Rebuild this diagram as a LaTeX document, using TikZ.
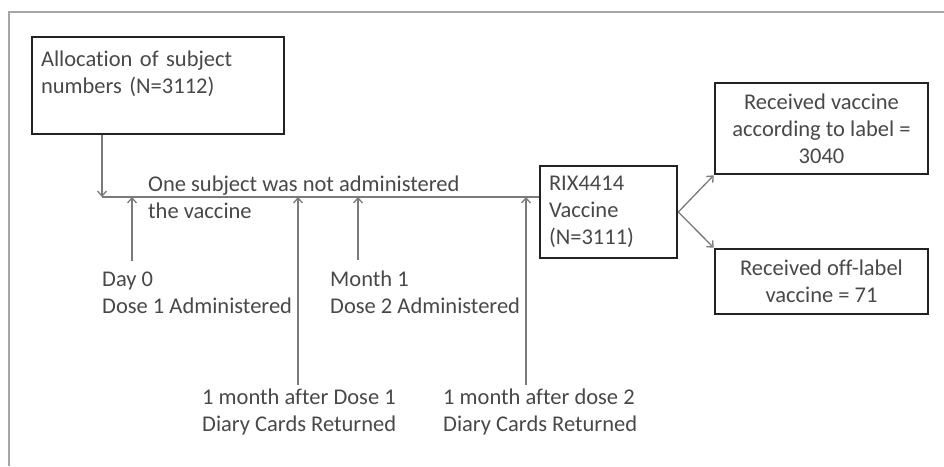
\documentclass[tikz,border=0pt]{standalone}
\usepackage{fontspec}
\setmainfont{Carlito}[Ligatures=NoCommon]
\usetikzlibrary{arrows.meta, positioning}

\definecolor{txtgray}{HTML}{484848}
\definecolor{linegray}{HTML}{7A7A7A}
\definecolor{boxblack}{HTML}{222222}

\begin{document}
\begin{tikzpicture}[
    x=1pt, y=-1pt,
    >={Straight Barb[length=5pt,width=9pt]},
    boxnode/.style={draw=boxblack, line width=2.6pt, rectangle,
        text=txtgray, font=\fontsize{22.5}{27}\selectfont},
    leftbox/.style={boxnode, align=left, inner xsep=9pt},
    centbox/.style={boxnode, align=center},
    textnode/.style={text=txtgray, align=left, inner sep=0pt,
        anchor=base west, font=\fontsize{22.5}{27}\selectfont},
    edgeline/.style={draw=linegray, line width=1.3pt}
]
\useasboundingbox (0,0) rectangle (944,466);
\draw[gray!70, line width=1.5pt] (944,12) -- (9,12) -- (9,466);

% Nodes
\node[leftbox, text width=234pt, minimum height=97pt] (alloc) at (158,85.5)
    {Allocation of subject\\numbers (N=3112)\\\mbox{}};
\node[leftbox, text width=119pt, minimum height=92pt] (rix) at (608.5,212)
    {RIX4414\\Vaccine\\(N=3111)};
\node[centbox, minimum width=213pt, minimum height=91pt] (recv) at (821.5,128.5)
    {Received vaccine\\according to label =\\3040};
\node[centbox, minimum width=213pt, minimum height=65pt] (offl) at (821.5,281.5)
    {Received off-label\\vaccine = 71};

\coordinate (t0) at (102,197);
\coordinate (t1) at (132,197);
\coordinate (t2) at (298,197);
\coordinate (t3) at (358,197);
\coordinate (t4) at (526,197);

% labels (base = last line)
\node[textnode] (note) at (148,218) {One subject was not administered\\the vaccine};
\node[textnode] (day0) at (102,313) {Day 0\\Dose 1 Administered};
\node[textnode] (month1) at (330,313) {Month 1\\Dose 2 Administered};
\node[textnode] (diary1) at (202,431) {1 month after Dose 1\\Diary Cards Returned};
\node[textnode] (diary2) at (443,431) {1 month after dose 2\\Diary Cards Returned};

% Paths
\draw[edgeline, ->] (alloc.south -| t0) -- (t0);
\draw[edgeline] (t0) -- (t0 -| rix.west);
\draw[edgeline, ->] ([yshift=10pt]day0.north -| t1) -- (t1);
\draw[edgeline, ->] ([yshift=10pt]month1.north -| t3) -- (t3);
\draw[edgeline, ->] ([yshift=3pt]diary1.north -| t2) -- (t2);
\draw[edgeline, ->] ([yshift=3pt]diary2.north -| t4) -- (t4);
\draw[edgeline, ->] (rix.east) -- (recv.south west);
\draw[edgeline, ->] (rix.east) -- (offl.north west);

\end{tikzpicture}
\end{document}
